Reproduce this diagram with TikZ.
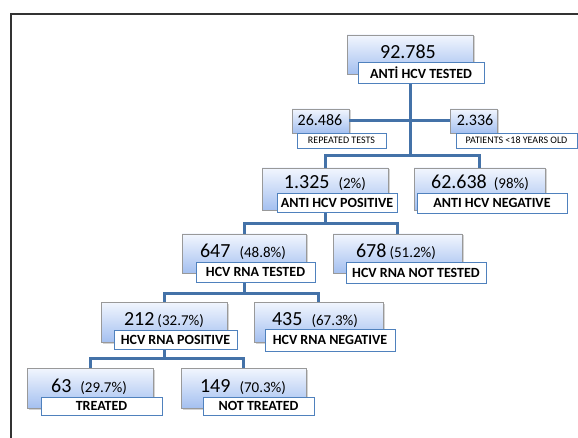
\documentclass[tikz,border=0pt]{standalone}
\usepackage{fontspec}
\setmainfont{Carlito}
\usetikzlibrary{shadows}
\definecolor{linkblue}{RGB}{68,114,168}
\definecolor{labblue}{RGB}{79,129,189}
\definecolor{boxtop}{RGB}{242,246,254}
\definecolor{boxbot}{RGB}{164,192,240}
\newcommand{\numfnt}{\fontsize{20}{22}\selectfont}
\newcommand{\smnumfnt}{\fontsize{16}{18}\selectfont}
\newcommand{\pctfnt}{\fontsize{15}{17}\selectfont}
\newcommand{\labfnt}{\fontsize{14}{16}\selectfont\bfseries}
\newcommand{\smlabfnt}{\fontsize{10}{12}\selectfont}
\begin{document}
\begin{tikzpicture}[x=1pt,y=-1pt,
	numbox/.style={draw=black!40, line width=0.6pt, top color=boxtop, bottom color=boxbot, inner sep=0pt,
		drop shadow={shadow xshift=1.5pt, shadow yshift=-1.5pt, opacity=0.35}},
	labbox/.style={draw=labblue, line width=0.8pt, fill=white, inner sep=0pt},
	numtext/.style={anchor=base, inner sep=0pt},
	link/.style={draw=linkblue, line width=3pt}]
	\useasboundingbox (0,0) rectangle (578,438);
	\draw[line width=1.2pt, black!80](11,438) -- (11,14) -- (578,14);
	% blue boxes
	\node[numbox, minimum width=126pt, minimum height=39pt] (tot) at (410,54.5) {};
	\node[numbox, minimum width=57pt, minimum height=24pt] (rep) at (320.5,121) {};
	\node[numbox, minimum width=47pt, minimum height=24pt] (pat) at (473.5,121) {};
	\node[numbox, minimum width=126pt, minimum height=42pt] (pos) at (325,189) {};
	\node[numbox, minimum width=131pt, minimum height=42pt] (neg) at (479.5,189) {};
	\node[numbox, minimum width=124pt, minimum height=39pt] (rnat) at (244,253.5) {};
	\node[numbox, minimum width=129pt, minimum height=39pt] (rnant) at (397.5,253.5) {};
	\node[numbox, minimum width=126pt, minimum height=40pt] (rpos) at (164,322) {};
	\node[numbox, minimum width=129pt, minimum height=40pt] (rneg) at (318.5,322) {};
	\node[numbox, minimum width=126pt, minimum height=40pt] (trt) at (90,388) {};
	\node[numbox, minimum width=125pt, minimum height=40pt] (ntrt) at (243.5,388) {};
	% numbers
	\node[numtext] (tot-n) at (408,58.3) {\numfnt 92.785};
	\node[numtext] (rep-n) at (320,126) {\smnumfnt 26.486};
	\node[numtext] (pat-n) at (475,126) {\smnumfnt 2.336};
	\node[numtext] (pos-n) at (325,189) {\numfnt 1.325\hspace{9pt}\pctfnt (2\%)};
	\node[numtext] (neg-n) at (480,189) {\numfnt 62.638\hspace{7pt}\pctfnt (98\%)};
	\node[numtext] (rnat-n) at (243,258) {\numfnt 647\hspace{9pt}\pctfnt (48.8\%)};
	\node[numtext] (rnant-n) at (396,258) {\numfnt 678\hspace{3pt}\pctfnt (51.2\%)};
	\node[numtext] (rpos-n) at (164,325) {\numfnt 212\hspace{3pt}\pctfnt (32.7\%)};
	\node[numtext] (rneg-n) at (315,325) {\numfnt 435\hspace{9pt}\pctfnt (67.3\%)};
	\node[numtext] (trt-n) at (89,392) {\numfnt 63\hspace{9pt}\pctfnt (29.7\%)};
	\node[numtext] (ntrt-n) at (243,392) {\numfnt 149\hspace{9pt}\pctfnt (70.3\%)};
	% connectors
	\path (tot.south) ++(0,81) coordinate (j0);
	\path (pos.south) ++(0,13) coordinate (j1);
	\path (rnat.south) ++(0,20) coordinate (j2);
	\path (rpos.south) ++(0,16) coordinate (j3);
	\draw[link] (tot.south) -- (j0);
	\draw[link] (rep.east) -- (pat.west);
	\draw[link] (pos.north) |- (j0) -| (neg.north);
	\draw[link] (pos.south) -- (j1);
	\draw[link] (rnat.north) |- (j1) -| (rnant.north);
	\draw[link] (rnat.south) -- (j2);
	\draw[link] (rpos.north) |- (j2) -| (rneg.north);
	\draw[link] (rpos.south) -- (j3);
	\draw[link] (trt.north) |- (j3) -| (ntrt.north);
	% white labels
	\node[labbox, minimum width=126pt, minimum height=21pt] (tot-l) at (421,72.5) {\labfnt ANTİ HCV TESTED};
	\node[labbox, minimum width=89pt, minimum height=15pt] (rep-l) at (341.5,140.5) {\smlabfnt REPEATED TESTS};
	\node[labbox, minimum width=121pt, minimum height=15pt] (pat-l) at (516.5,140.5) {\smlabfnt PATIENTS <18 YEARS OLD};
	\node[labbox, minimum width=120pt, minimum height=19pt] (pos-l) at (337,202.5) {\labfnt ANTI HCV POSITIVE};
	\node[labbox, minimum width=150pt, minimum height=20pt] (neg-l) at (492,203) {\labfnt ANTI HCV NEGATIVE};
	\node[labbox, minimum width=119pt, minimum height=20pt] (rnat-l) at (255.5,272) {\labfnt HCV RNA TESTED};
	\node[labbox, minimum width=140pt, minimum height=21pt] (rnant-l) at (416,272.5) {\labfnt HCV RNA NOT TESTED};
	\node[labbox, minimum width=123pt, minimum height=19pt] (rpos-l) at (175.5,339.5) {\labfnt HCV RNA POSITIVE};
	\node[labbox, minimum width=130pt, minimum height=22pt] (rneg-l) at (330,340) {\labfnt HCV RNA NEGATIVE};
	\node[labbox, minimum width=121pt, minimum height=18pt] (trt-l) at (101.5,406) {\labfnt TREATED};
	\node[labbox, minimum width=111pt, minimum height=18pt] (ntrt-l) at (258.5,406) {\labfnt NOT TREATED};
\end{tikzpicture}
\end{document}
